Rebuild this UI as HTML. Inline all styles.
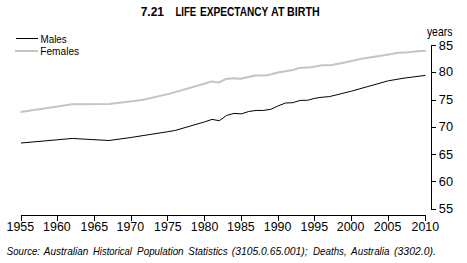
<!DOCTYPE html><html><head><meta charset="utf-8"><style>html,body{margin:0;padding:0;background:#fff;}svg{display:block;}</style></head><body>
<svg width="467" height="263" viewBox="0 0 467 263">
<rect width="467" height="263" fill="#fff"/>
<text x="140.7" y="15.6" font-family="Liberation Sans, sans-serif" font-weight="bold" font-size="12" fill="#000" textLength="23.26" lengthAdjust="spacingAndGlyphs">7.21</text>
<text x="175.4" y="15.6" font-family="Liberation Sans, sans-serif" font-weight="bold" font-size="12" fill="#000" textLength="20.9" lengthAdjust="spacingAndGlyphs">LIFE</text>
<text x="200" y="15.6" font-family="Liberation Sans, sans-serif" font-weight="bold" font-size="12" fill="#000" textLength="68.3" lengthAdjust="spacingAndGlyphs">EXPECTANCY</text>
<text x="271" y="15.6" font-family="Liberation Sans, sans-serif" font-weight="bold" font-size="12" fill="#000" textLength="13.47" lengthAdjust="spacingAndGlyphs">AT</text>
<text x="287.1" y="15.6" font-family="Liberation Sans, sans-serif" font-weight="bold" font-size="12" fill="#000" textLength="32.6" lengthAdjust="spacingAndGlyphs">BIRTH</text>
<g shape-rendering="crispEdges"><rect x="16" y="38" width="22" height="1" fill="#000"/><rect x="15" y="50" width="23" height="2" fill="#c4c4c4"/></g>
<text x="40.5" y="42.8" font-family="Liberation Sans, sans-serif" font-size="11.6" fill="#000" textLength="26.2" lengthAdjust="spacingAndGlyphs">Males</text>
<text x="40.3" y="54.6" font-family="Liberation Sans, sans-serif" font-size="11.6" fill="#000" textLength="38.8" lengthAdjust="spacingAndGlyphs">Females</text>
<text x="426.9" y="36" font-family="Liberation Sans, sans-serif" font-size="12.2" fill="#000" textLength="25.5" lengthAdjust="spacingAndGlyphs">years</text>
<g shape-rendering="crispEdges" fill="#000">
<rect x="21" y="215" width="405" height="1"/>
<rect x="21" y="215" width="1" height="6"/>
<rect x="57" y="215" width="1" height="6"/>
<rect x="94" y="215" width="1" height="6"/>
<rect x="131" y="215" width="1" height="6"/>
<rect x="167" y="215" width="1" height="6"/>
<rect x="204" y="215" width="1" height="6"/>
<rect x="241" y="215" width="1" height="6"/>
<rect x="278" y="215" width="1" height="6"/>
<rect x="314" y="215" width="1" height="6"/>
<rect x="351" y="215" width="1" height="6"/>
<rect x="388" y="215" width="1" height="6"/>
<rect x="425" y="215" width="1" height="6"/>
<rect x="431" y="45" width="1" height="165"/>
<rect x="431" y="45" width="5" height="1"/>
<rect x="431" y="72" width="5" height="1"/>
<rect x="431" y="100" width="5" height="1"/>
<rect x="431" y="127" width="5" height="1"/>
<rect x="431" y="154" width="5" height="1"/>
<rect x="431" y="181" width="5" height="1"/>
<rect x="431" y="209" width="5" height="1"/>
</g>
<text x="6.55" y="231.1" font-family="Liberation Sans, sans-serif" font-size="13.2" fill="#000" textLength="27.6" lengthAdjust="spacingAndGlyphs">1955</text>
<text x="43.1" y="231.1" font-family="Liberation Sans, sans-serif" font-size="13.2" fill="#000" textLength="27.6" lengthAdjust="spacingAndGlyphs">1960</text>
<text x="80.5" y="231.1" font-family="Liberation Sans, sans-serif" font-size="13.2" fill="#000" textLength="27.6" lengthAdjust="spacingAndGlyphs">1965</text>
<text x="116.55" y="231.1" font-family="Liberation Sans, sans-serif" font-size="13.2" fill="#000" textLength="27.6" lengthAdjust="spacingAndGlyphs">1970</text>
<text x="154.1" y="231.1" font-family="Liberation Sans, sans-serif" font-size="13.2" fill="#000" textLength="27.6" lengthAdjust="spacingAndGlyphs">1975</text>
<text x="190.75" y="231.1" font-family="Liberation Sans, sans-serif" font-size="13.2" fill="#000" textLength="27.6" lengthAdjust="spacingAndGlyphs">1980</text>
<text x="227.1" y="231.1" font-family="Liberation Sans, sans-serif" font-size="13.2" fill="#000" textLength="27.6" lengthAdjust="spacingAndGlyphs">1985</text>
<text x="263.75" y="231.1" font-family="Liberation Sans, sans-serif" font-size="13.2" fill="#000" textLength="27.6" lengthAdjust="spacingAndGlyphs">1990</text>
<text x="300.55" y="231.1" font-family="Liberation Sans, sans-serif" font-size="13.2" fill="#000" textLength="27.6" lengthAdjust="spacingAndGlyphs">1995</text>
<text x="336.75" y="231.1" font-family="Liberation Sans, sans-serif" font-size="13.2" fill="#000" textLength="27.6" lengthAdjust="spacingAndGlyphs">2000</text>
<text x="373.75" y="231.1" font-family="Liberation Sans, sans-serif" font-size="13.2" fill="#000" textLength="27.6" lengthAdjust="spacingAndGlyphs">2005</text>
<text x="411.5" y="231.1" font-family="Liberation Sans, sans-serif" font-size="13.2" fill="#000" textLength="27.6" lengthAdjust="spacingAndGlyphs">2010</text>
<text x="438.8" y="50.1" font-family="Liberation Sans, sans-serif" font-size="13.2" fill="#000" textLength="14.2" lengthAdjust="spacingAndGlyphs">85</text>
<text x="438.8" y="75.9" font-family="Liberation Sans, sans-serif" font-size="13.2" fill="#000" textLength="14.2" lengthAdjust="spacingAndGlyphs">80</text>
<text x="438.8" y="104.4" font-family="Liberation Sans, sans-serif" font-size="13.2" fill="#000" textLength="14.2" lengthAdjust="spacingAndGlyphs">75</text>
<text x="438.8" y="131.1" font-family="Liberation Sans, sans-serif" font-size="13.2" fill="#000" textLength="14.2" lengthAdjust="spacingAndGlyphs">70</text>
<text x="438.8" y="159.1" font-family="Liberation Sans, sans-serif" font-size="13.2" fill="#000" textLength="14.2" lengthAdjust="spacingAndGlyphs">65</text>
<text x="438.8" y="186.1" font-family="Liberation Sans, sans-serif" font-size="13.2" fill="#000" textLength="14.2" lengthAdjust="spacingAndGlyphs">60</text>
<text x="438.8" y="213.1" font-family="Liberation Sans, sans-serif" font-size="13.2" fill="#000" textLength="14.2" lengthAdjust="spacingAndGlyphs">55</text>
<polyline points="20.5,112 57.7,106.6 72,104.2 109.1,104.05 130,101.55 142,100 170,93.6 205,83.5 211.6,81.4 218.8,82.5 225.7,79.1 233,78.2 240.6,78.85 255.1,75.6 265.4,75.4 270.5,74.5 278,72.5 292.8,70.1 298.8,68 311,67.3 322,65.3 330.6,65.2 346,62.3 363.1,58.4 386,55 398.3,52.8 408.6,52.2 417.1,51.2 426,50.8" fill="none" stroke="#c4c4c4" stroke-width="2" stroke-linejoin="round"/>
<polyline points="21,143 57.7,139.75 72.4,138.45 87.1,139.3 109.1,140.5 131.2,137.45 167.9,131.7 175.3,130.4 204.6,121.9 212,119.4 219.3,120.7 226.7,115.4 234,113.4 241.4,113.9 248.7,111.5 256.1,110.45 263.4,110.45 270.8,109.3 278.1,105.9 285.5,103 292.8,102.7 300.2,100.4 307.5,100.3 314.8,98.3 322.2,97.2 329.5,96.6 351.6,91.1 388.3,80.8 403,78.3 425.5,75.35" fill="none" stroke="#000" stroke-width="1" stroke-linejoin="round"/>
<text x="6.84" y="255" font-family="Liberation Sans, sans-serif" font-style="italic" font-size="11" fill="#000" textLength="33.16" lengthAdjust="spacingAndGlyphs">Source:</text>
<text x="43.82" y="255" font-family="Liberation Sans, sans-serif" font-style="italic" font-size="11" fill="#000" textLength="44.48" lengthAdjust="spacingAndGlyphs">Australian</text>
<text x="93" y="255" font-family="Liberation Sans, sans-serif" font-style="italic" font-size="11" fill="#000" textLength="38.86" lengthAdjust="spacingAndGlyphs">Historical</text>
<text x="137.1" y="255" font-family="Liberation Sans, sans-serif" font-style="italic" font-size="11" fill="#000" textLength="46.5" lengthAdjust="spacingAndGlyphs">Population</text>
<text x="188.33" y="255" font-family="Liberation Sans, sans-serif" font-style="italic" font-size="11" fill="#000" textLength="39.37" lengthAdjust="spacingAndGlyphs">Statistics</text>
<text x="231.8" y="255" font-family="Liberation Sans, sans-serif" font-style="italic" font-size="11" fill="#000" textLength="75.9" lengthAdjust="spacingAndGlyphs">(3105.0.65.001);</text>
<text x="313" y="255" font-family="Liberation Sans, sans-serif" font-style="italic" font-size="11" fill="#000" textLength="33.68" lengthAdjust="spacingAndGlyphs">Deaths,</text>
<text x="351.12" y="255" font-family="Liberation Sans, sans-serif" font-style="italic" font-size="11" fill="#000" textLength="38.38" lengthAdjust="spacingAndGlyphs">Australia</text>
<text x="394.12" y="255" font-family="Liberation Sans, sans-serif" font-style="italic" font-size="11" fill="#000" textLength="41.67" lengthAdjust="spacingAndGlyphs">(3302.0).</text>
</svg></body></html>
